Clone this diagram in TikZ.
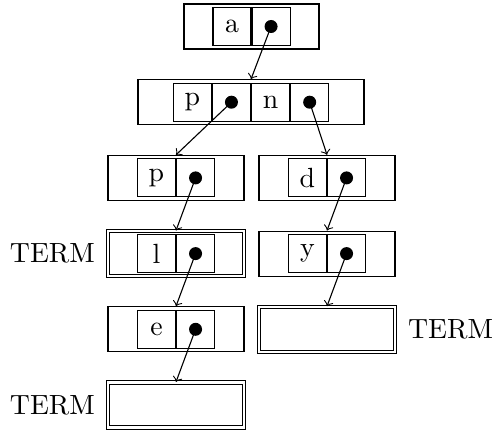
\documentclass[tikz,border=0pt]{standalone}
\usetikzlibrary{positioning}
\tikzset{>=to}
\def\u{0.36pt}
\tikzstyle{tnode}=[draw,minimum width=136*\u,minimum height=45*\u,inner sep=0]
\tikzstyle{tterm}=[tnode,double,double distance=0.8pt]
\tikzstyle{cell}=[draw,minimum width=38*\u,minimum height=38*\u,inner sep=0]
\tikzstyle{dot}=[fill=black,circle,inner sep=0,minimum size=13*\u]
\tikzstyle{link}=[->,line cap=round]

\begin{document}
\begin{tikzpicture}[x=\u,y=-\u]
  \useasboundingbox (0,0) rectangle (496,430);
  \def\xl{176}
  \def\xr{327}

  % root
  \node[tnode, minimum width=135*\u] (n0) at (251.5,26.5) {};
  \node[cell, anchor=east] (n0k) at (n0.center) {a};
  \node[cell, right=0pt of n0k] (n0c) {};
  \node[dot] (n0d) at (n0c) {};

  % p / n
  \node[tnode, minimum width=226*\u] (n1) at (251,102.2) {};
  \node[cell, anchor=east] (n1c) at (n1.center) {};
  \node[cell, left=0pt of n1c] (n1k) {p};
  \node[cell, right=0pt of n1c] (n1k') {n};
  \node[cell, right=0pt of n1k'] (n1c') {};
  \node[dot] (n1d) at (n1c) {};
  \node[dot] (n1d') at (n1c') {};

  % left column
  \node[tnode] (n2) at (\xl,177.9) {};
  \node[cell, anchor=east] (n2k) at (n2.center) {p};
  \node[cell, right=0pt of n2k] (n2c) {};
  \node[dot] (n2d) at (n2c) {};

  \node[tterm] (n4) at (\xl,253.6) {};
  \node[cell, anchor=east] (n4k) at (n4.center) {l};
  \node[cell, right=0pt of n4k] (n4c) {};
  \node[dot] (n4d) at (n4c) {};
  \node[left=1pt of n4] (n4t) {TERM};

  \node[tnode] (n6) at (\xl,329.3) {};
  \node[cell, anchor=east] (n6k) at (n6.center) {e};
  \node[cell, right=0pt of n6k] (n6c) {};
  \node[dot] (n6d) at (n6c) {};

  \node[tterm] (n8) at (\xl,405) {};
  \node[left=1pt of n8] (n8t) {TERM};

  % right column
  \node[tnode] (n3) at (\xr,177.9) {};
  \node[cell, anchor=east] (n3k) at (n3.center) {d};
  \node[cell, right=0pt of n3k] (n3c) {};
  \node[dot] (n3d) at (n3c) {};

  \node[tnode] (n5) at (\xr,253.6) {};
  \node[cell, anchor=east] (n5k) at (n5.center) {y};
  \node[cell, right=0pt of n5k] (n5c) {};
  \node[dot] (n5d) at (n5c) {};

  \node[tterm] (n7) at (\xr,329.3) {};
  \node[right=1pt of n7] (n7t) {TERM};

  % links
  \draw[link] (n0d.center) -- (n1.north);
  \draw[link] (n1d.center) -- (n2.north);
  \draw[link] (n1d'.center) -- (n3.north);
  \draw[link] (n2d.center) -- (n4.north);
  \draw[link] (n3d.center) -- (n5.north);
  \draw[link] (n4d.center) -- (n6.north);
  \draw[link] (n5d.center) -- (n7.north);
  \draw[link] (n6d.center) -- (n8.north);
\end{tikzpicture}
\end{document}
